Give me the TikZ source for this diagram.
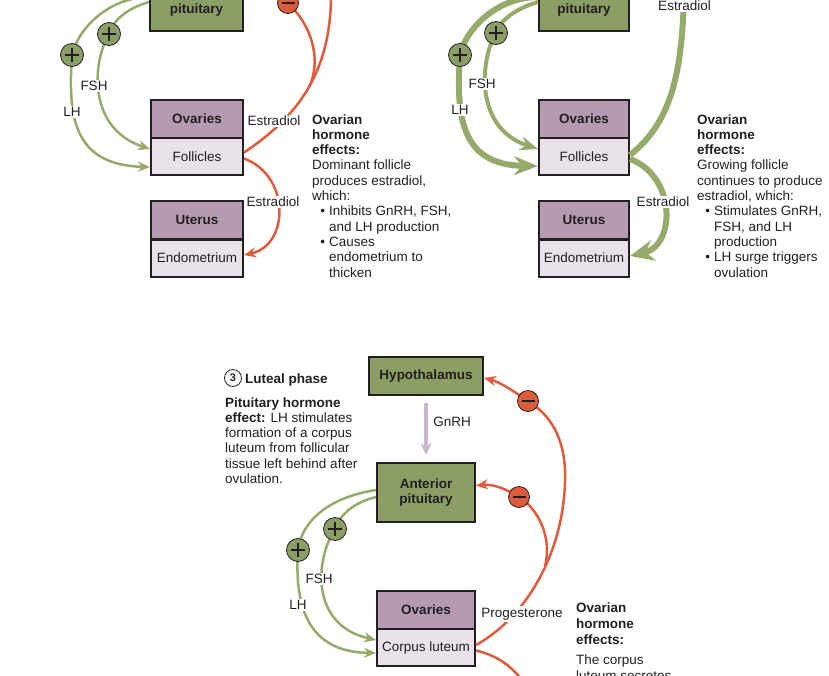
\documentclass[tikz,border=0pt]{standalone}
\usepackage{fontspec}
\setmainfont{Liberation Sans}
\usetikzlibrary{arrows.meta}

\definecolor{ink}{RGB}{35,31,32}
\definecolor{glandgreen}{RGB}{139,158,102}
\definecolor{ovtop}{RGB}{181,155,178}
\definecolor{ovbot}{RGB}{234,226,234}
\definecolor{redfb}{RGB}{222,92,61}
\definecolor{greenfb}{RGB}{150,170,108}
\definecolor{gnrhc}{RGB}{201,182,200}

\newcommand{\bitem}{\makebox[17pt][r]{\textbullet\hspace{4pt}}}
\newcommand{\bcont}{\hspace*{17pt}}

\begin{document}
\fontsize{13.5}{15.3}\selectfont
\begin{tikzpicture}[x=1pt, y=-1pt,
    gland/.style={draw=ink, line width=2pt, fill=glandgreen, text=ink, font=\bfseries, align=center, inner sep=0pt},
    ovhead/.style={draw=ink, line width=2pt, fill=ovtop, text=ink, font=\bfseries, minimum height=38pt, inner sep=0pt},
    ovbody/.style={draw=ink, line width=2pt, fill=ovbot, text=ink, minimum height=37pt, inner sep=0pt},
    lab/.style={fill=white, text=ink, inner sep=1.5pt},
    txt/.style={anchor=base west, align=left, text=ink, inner sep=0pt},
    gline/.style={draw=greenfb, line width=2.5pt},
    rline/.style={draw=redfb, line width=2.5pt},
    smallhead/.style={-{Stealth[length=12pt,width=10pt]}},
    plus/.style={circle, draw=ink, line width=0.8pt, fill=glandgreen, minimum size=23pt, inner sep=0pt,
      path picture={\draw[ink, line width=2pt]
        ([xshift=-7pt]path picture bounding box.center) -- ([xshift=7pt]path picture bounding box.center)
        ([yshift=-7pt]path picture bounding box.center) -- ([yshift=7pt]path picture bounding box.center);}},
    minus/.style={circle, draw=ink, line width=0.8pt, fill=redfb, minimum size=21pt, inner sep=0pt,
      path picture={\draw[ink, line width=2pt]
        ([xshift=-6.5pt]path picture bounding box.center) -- ([xshift=6.5pt]path picture bounding box.center);}}]

\useasboundingbox (0,0) rectangle (829,675);
\clip (0,0) rectangle (829,675);

% Follicular phase, estradiol inhibits
\node[gland, minimum width=93pt, minimum height=57pt] (pitA) at (196.5,2.5) {Anterior\\pituitary};
\node[ovhead, minimum width=92pt] (ovA) at (197,119) {Ovaries};
\node[ovbody, minimum width=92pt] (folA) at (197,156.5) {Follicles};
\node[ovhead, minimum width=92pt] (utA) at (197,220) {Uterus};
\node[ovbody, minimum width=92pt] (endA) at (197,258) {Endometrium};

\coordinate (pA1) at (72,55);
\coordinate (pA2) at (109,34);
\coordinate (mA) at (288,3);
\coordinate (splitA) at (309,87);
\coordinate (hypA) at (331,-10);

\draw[gline, smallhead] ([yshift=5.5pt]pitA.west) .. controls (110,-3) and (78,28) .. (pA1)
  .. controls (68,115) and (72,165) .. ([yshift=-10.5pt]folA.west);
\draw[gline, smallhead] ([yshift=0.5pt]pitA.west) .. controls (128,8) and (113,20) .. (pA2)
  .. controls (93,60) and (86,128) .. ([yshift=7.5pt]folA.west);
\draw[rline] ([yshift=4pt]folA.east) .. controls (300,115) and (332,70) .. (hypA);
\draw[rline, smallhead] (splitA) .. controls (320,65) and (316,30) .. (mA)
  .. controls (278,-8) and (262,-12) .. ([yshift=14pt]pitA.east);
\draw[rline, smallhead] ([yshift=-2pt]folA.east) .. controls (290,175) and (290,245) .. ([yshift=3pt]endA.east);

\node[plus] (plusA1) at (pA1) {};
\node[plus] (plusA2) at (pA2) {};
\node[minus] (minusA) at (mA) {};
\node[lab] (lhA) at (72,112) {LH};
\node[lab] (fshA) at (94,86) {FSH};
\node[lab] (esA1) at (274,121) {Estradiol};
\node[lab] (esA2) at (273,202) {Estradiol};
\node[txt] (effA) at (312,277) {\textbf{Ovarian}\\\textbf{hormone}\\\textbf{effects:}\\Dominant follicle\\produces estradiol,\\which:\\\bitem Inhibits GnRH, FSH,\\\bcont and LH production\\\bitem Causes\\\bcont endometrium to\\\bcont thicken};

% Follicular phase, estradiol stimulates
\node[gland, minimum width=90pt, minimum height=57pt] (pitB) at (584,2.5) {Anterior\\pituitary};
\node[ovhead, minimum width=90pt] (ovB) at (584,119) {Ovaries};
\node[ovbody, minimum width=90pt] (folB) at (584,156.5) {Follicles};
\node[ovhead, minimum width=90pt] (utB) at (584,220) {Uterus};
\node[ovbody, minimum width=90pt] (endB) at (584,258) {Endometrium};

\coordinate (pB1) at (460,55);
\coordinate (pB2) at (496,33);
\coordinate (hypB) at (684,-20);

\draw[gline, line width=6pt, -{Stealth[length=24pt,width=19pt]}] ([yshift=5.5pt]pitB.west) .. controls (498,-3) and (466,28) .. (pB1)
  .. controls (456,115) and (460,165) .. ([yshift=-9.5pt]folB.west);
\draw[gline, line width=4pt, -{Stealth[length=18pt,width=14pt]}] ([yshift=0.5pt]pitB.west) .. controls (517,8) and (500,20) .. (pB2)
  .. controls (480,60) and (474,128) .. ([yshift=7.5pt]folB.west);
\draw[gline, line width=6pt] ([yshift=1.5pt]folB.east) .. controls (668,125) and (684,80) .. (hypB);
\draw[gline, line width=6pt, -{Stealth[length=24pt,width=21pt]}] ([yshift=-2.5pt]folB.east) .. controls (676,176) and (676,245) .. ([yshift=2pt]endB.east);

\node[plus] (plusB1) at (pB1) {};
\node[plus] (plusB2) at (pB2) {};
\node[lab] (lhB) at (460,110) {LH};
\node[lab] (fshB) at (482,84) {FSH};
\node[lab] (esB1) at (684.5,6) {Estradiol};
\node[lab] (esB2) at (663,202) {Estradiol};
\node[txt] (effB) at (697,277) {\textbf{Ovarian}\\\textbf{hormone}\\\textbf{effects:}\\Growing follicle\\continues to produce\\estradiol, which:\\\bitem Stimulates GnRH,\\\bcont FSH, and LH\\\bcont production\\\bitem LH surge triggers\\\bcont ovulation};

% Luteal phase
\node[gland, minimum width=114pt, minimum height=38pt] (hypC) at (426,376) {Hypothalamus};
\node[gland, minimum width=98pt, minimum height=59pt] (pitC) at (426,492.5) {Anterior\\pituitary};
\node[ovhead, minimum width=98pt] (ovC) at (426,610) {Ovaries};
\node[ovbody, minimum width=98pt] (clC) at (426,647.5) {Corpus luteum};

\coordinate (pC1) at (298,550);
\coordinate (pC2) at (335,529);
\coordinate (mC1) at (528,401);
\coordinate (mC2) at (519,497);
\coordinate (splitC) at (545,566);
\coordinate (uterC) at (532,695);

\draw[gnrhc, line width=4pt, -{Stealth[length=12pt,width=11pt]}] ([yshift=-7pt]hypC.south) -- ([yshift=7pt]pitC.north);
\draw[gline, smallhead] ([yshift=2.5pt]pitC.west) .. controls (330,497) and (302,520) .. (pC1)
  .. controls (294,610) and (310,652) .. ([yshift=-5.5pt]clC.west);
\draw[gline, smallhead] ([yshift=-4.5pt]pitC.west) .. controls (355,502) and (340,514) .. (pC2)
  .. controls (315,560) and (310,625) .. ([yshift=7.5pt]clC.west);
\draw[rline, smallhead] ([yshift=2.5pt]clC.east) .. controls (530,615) and (567,545) .. (565,470)
  .. controls (563,430) and (545,412) .. (mC1)
  .. controls (515,392) and (500,382) .. ([yshift=-2pt]hypC.east);
\draw[rline, smallhead] (splitC) .. controls (552,540) and (540,510) .. (mC2)
  .. controls (505,488) and (492,484) .. ([yshift=7pt]pitC.east);
\draw[rline] ([yshift=-3pt]clC.east) .. controls (495,655) and (515,665) .. (uterC);

\node[plus] (plusC1) at (pC1) {};
\node[plus] (plusC2) at (pC2) {};
\node[minus] (minusC1) at (mC1) {};
\node[minus] (minusC2) at (mC2) {};
\node[lab] (lhC) at (298,605) {LH};
\node[lab] (fshC) at (319,579) {FSH};
\node[lab] (gnrhC) at (452,422) {GnRH};
\node[lab] (progC) at (522,614) {Progesterone};

\node[circle, draw=ink, line width=0.8pt, minimum size=17pt, inner sep=0pt, font=\bfseries\fontsize{11}{12}\selectfont, text=ink] (numC) at (233,378) {3};
\node[txt, font=\bfseries] (phaseC) at (245,383) {Luteal phase};
\node[txt] (pitfxC) at (225,483.5) {\textbf{Pituitary hormone}\\\textbf{effect:} LH stimulates\\formation of a corpus\\luteum from follicular\\tissue left behind after\\ovulation.};
\node[txt, font=\fontsize{13.5}{16}\selectfont] (effC) at (576,680) {\textbf{Ovarian}\\\textbf{hormone}\\\textbf{effects:}\\[3.5pt]The corpus\\luteum secretes};
\end{tikzpicture}
\end{document}
